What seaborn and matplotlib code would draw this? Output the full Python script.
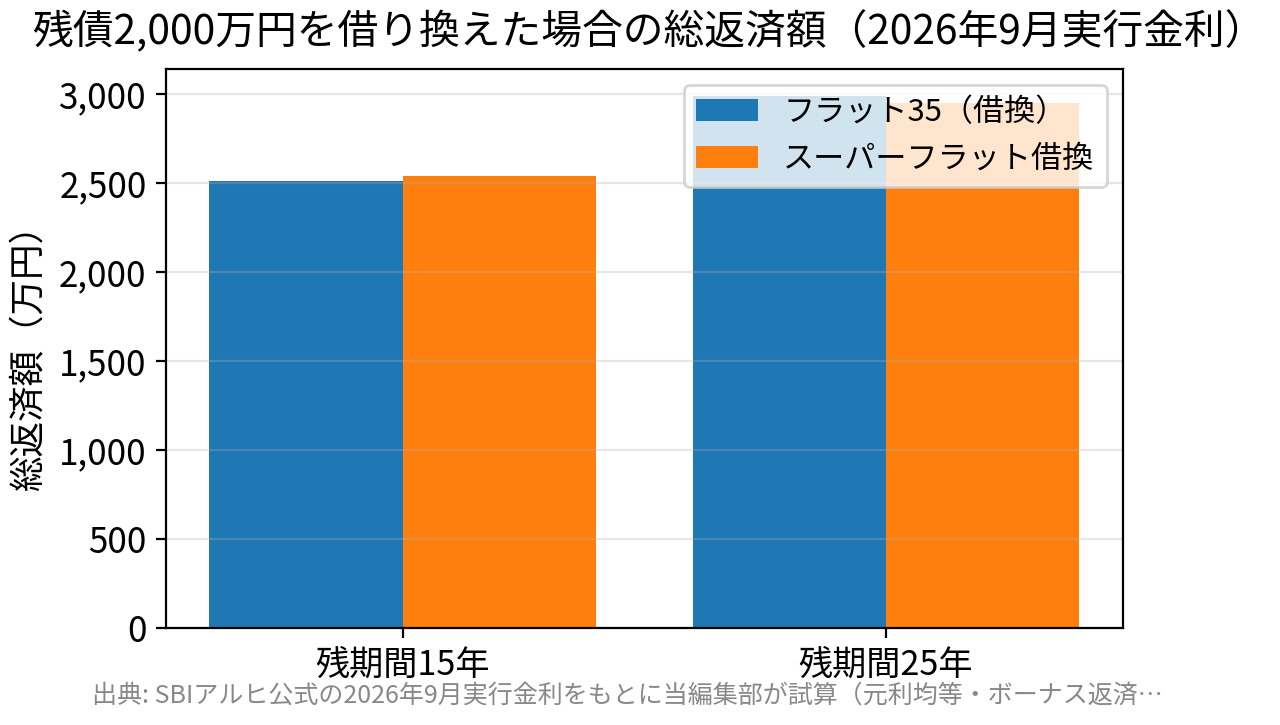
import pandas as pd
import seaborn as sns
from matplotlib import pyplot as plt
from matplotlib.ticker import FuncFormatter

# data
periods = ["残期間15年", "残期間25年"]
plans = ["フラット35（借換）", "スーパーフラット借換"]
flat35 = [2511, 2990]
super_flat = [2539, 2949]

plt.rcParams["font.family"] = ["Noto Sans CJK JP", "DejaVu Sans"]

df = pd.DataFrame({
    "period": periods * 2,
    "plan": [plans[0]] * 2 + [plans[1]] * 2,
    "total": flat35 + super_flat,
})

fig, ax = plt.subplots(figsize=(6.4, 3.625), dpi=200)
fig.subplots_adjust(left=0.1297, right=0.877, top=0.9048, bottom=0.1338)

sns.barplot(data=df, x="period", y="total", hue="plan", hue_order=plans,
            palette=["#1f77b4", "#ff7f0e"], saturation=1, errorbar=None,
            width=0.8, ax=ax)

ax.set_xlim(-0.49, 1.49)
ax.set_ylim(0, max(flat35 + super_flat) * 1.05)
ax.yaxis.set_major_formatter(FuncFormatter(lambda v, p: f"{v:,.0f}"))
ax.grid(axis="y", alpha=0.3)
ax.set_xlabel("")
ax.set_ylabel("総返済額（万円）", fontsize=12.8)
ax.tick_params(axis="x", labelsize=12.3)
ax.tick_params(axis="y", labelsize=12.6)
ax.legend(loc="upper right", fontsize=11.2)

fig.suptitle("残債2,000万円を借り換えた場合の総返済額（2026年9月実行金利）",
             fontsize=14.7, x=0.507, y=0.956, va="center")
fig.text(0.072, 0.04, "出典: SBIアルヒ公式の2026年9月実行金利をもとに当編集部が試算（元利均等・ボーナス返済…",
         fontsize=9, color="#888888", ha="left", va="center")

fig.savefig("out.png", dpi=200)
